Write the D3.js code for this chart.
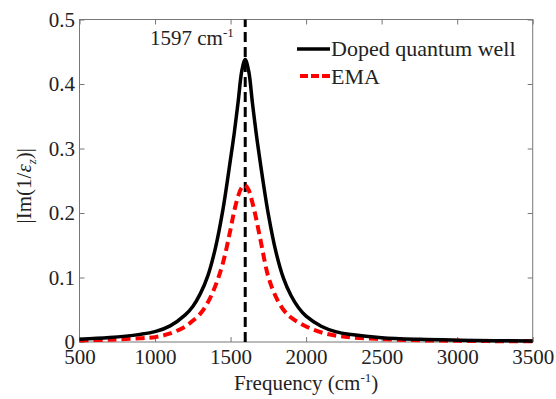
<!DOCTYPE html>
<html>
<head>
<meta charset="utf-8">
<script src="https://cdn.jsdelivr.net/npm/d3@7"></script>
</head>
<body style="margin:0">
<div id="chart"></div>
<script>
// values
const qwFreq = [500, 700, 900, 1000, 1100, 1200, 1250, 1300, 1350, 1400, 1450, 1500, 1525, 1550, 1575, 1597,
    1620, 1645, 1670, 1700, 1750, 1800, 1850, 1900, 1950, 2000, 2100, 2200, 2300, 2500, 2750, 3000, 3250, 3500];
const qwVal = [0.0044, 0.0068, 0.0118, 0.016, 0.025, 0.042, 0.055, 0.075, 0.103, 0.146, 0.206, 0.284, 0.325, 0.372, 0.421, 0.438,
    0.420, 0.370, 0.323, 0.273, 0.198, 0.140, 0.099, 0.072, 0.053, 0.040, 0.0245, 0.0157, 0.0116, 0.0067, 0.0041, 0.0028, 0.002, 0.0015];

const emaFreq = [500, 700, 900, 1000, 1100, 1200, 1250, 1300, 1350, 1400, 1450, 1500, 1525, 1550, 1570, 1592,
    1615, 1640, 1665, 1700, 1750, 1800, 1850, 1900, 2000, 2100, 2200, 2300, 2500, 2750, 3000, 3250, 3500];
const emaVal = [0.0026, 0.0036, 0.0058, 0.0075, 0.0132, 0.024, 0.033, 0.044, 0.0615, 0.0874, 0.123, 0.175, 0.204, 0.226, 0.238, 0.243,
    0.238, 0.220, 0.196, 0.156, 0.101, 0.070, 0.050, 0.038, 0.024, 0.0149, 0.0098, 0.0072, 0.0045, 0.0027, 0.0018, 0.0013, 0.001];

const peakFreq = 1597;
const xTicks = [500, 1000, 1500, 2000, 2500, 3000, 3500];
const yTicks = [0, 0.1, 0.2, 0.3, 0.4, 0.5];

const serif = "'Liberation Serif', 'Times New Roman', serif";

let margin = { top: 19.5, right: 23.3, bottom: 57, left: 79.5 },
    width = 556 - margin.left - margin.right,
    height = 399 - margin.top - margin.bottom;

var svg = d3.select("#chart").append("svg")
    .attr("width", 556)
    .attr("height", 399);

var chart = svg.append("g")
    .attr("transform", "translate(" + margin.left + "," + margin.top + ")");

var x = d3.scaleLinear().domain([500, 3500]).range([0, width]);
var y = d3.scaleLinear().domain([0, 0.5]).range([height, 0]);

// ticks point inwards, mirrored on top and right like matlab
var xAxis = d3.axisBottom(x).tickValues(xTicks).tickSizeInner(-5).tickSizeOuter(0).tickPadding(7)
    .tickFormat(d3.format("d"));
var yAxis = d3.axisLeft(y).tickValues(yTicks).tickSizeInner(-5).tickSizeOuter(0).tickPadding(4.5)
    .tickFormat(d => d === 0 ? "0" : d3.format(".1f")(d));

chart.append("g")
    .attr("class", "x axis")
    .attr("transform", "translate(0," + height + ")")
    .call(xAxis);
chart.append("g")
    .attr("class", "x axis top")
    .call(d3.axisTop(x).tickValues(xTicks).tickSizeInner(-5).tickSizeOuter(0).tickFormat(""));
chart.append("g")
    .attr("class", "y axis")
    .call(yAxis);
chart.append("g")
    .attr("class", "y axis right")
    .attr("transform", "translate(" + width + ",0)")
    .call(d3.axisRight(y).tickValues(yTicks).tickSizeInner(-5).tickSizeOuter(0).tickFormat(""));

chart.selectAll(".axis").attr("font-family", null);
chart.selectAll(".axis .domain").remove();
chart.selectAll(".axis line").attr("stroke", "#777");
chart.selectAll(".axis text").attr("font-size", "21px").attr("fill", "#222");

chart.append("rect")
    .attr("width", width)
    .attr("height", height)
    .attr("fill", "none")
    .attr("stroke", "#777")
    .attr("stroke-width", 1);

// peak marker
chart.append("line")
    .attr("x1", x(peakFreq)).attr("x2", x(peakFreq))
    .attr("y1", y(0)).attr("y2", y(0.5))
    .attr("stroke", "#000")
    .attr("stroke-width", 3)
    .attr("stroke-dasharray", "10,5");

var line = d3.line()
    .x(d => x(d[0]))
    .y(d => y(d[1]))
    .curve(d3.curveCatmullRom.alpha(0.5));

chart.append("path")
    .datum(emaFreq.map((f, i) => [f, emaVal[i]]))
    .attr("d", line)
    .attr("fill", "none")
    .attr("stroke", "#ff0000")
    .attr("stroke-width", 4)
    .attr("stroke-dasharray", "9,5");

chart.append("path")
    .datum(qwFreq.map((f, i) => [f, qwVal[i]]))
    .attr("d", line)
    .attr("fill", "none")
    .attr("stroke", "#000")
    .attr("stroke-width", 3.5);

// peak label
var pl = svg.append("text")
    .attr("x", 150)
    .attr("y", 45)
    .attr("font-size", "21px");
pl.append("tspan").text(peakFreq + " cm");
pl.append("tspan").attr("font-size", "13px").attr("dy", -8).text("-1");

// legend
var legend = svg.append("g");
legend.append("line")
    .attr("x1", 297).attr("x2", 330).attr("y1", 49).attr("y2", 49)
    .attr("stroke", "#000").attr("stroke-width", 3.5);
legend.append("text")
    .attr("x", 331).attr("y", 56)
    .attr("font-size", "22px")
    .text("Doped quantum well");
legend.append("line")
    .attr("x1", 300).attr("x2", 330).attr("y1", 76).attr("y2", 76)
    .attr("stroke", "#ff0000").attr("stroke-width", 4).attr("stroke-dasharray", "8,3");
legend.append("text")
    .attr("x", 331).attr("y", 84)
    .attr("font-size", "22px")
    .text("EMA");

// axis titles
var xl = svg.append("text")
    .attr("x", margin.left + width / 2)
    .attr("y", 390)
    .attr("text-anchor", "middle")
    .attr("font-size", "21px");
xl.append("tspan").text("Frequency (cm");
xl.append("tspan").attr("font-size", "13px").attr("dy", -8).text("-1");
xl.append("tspan").attr("dy", 8).text(")");

var yl = svg.append("text")
    .attr("transform", "translate(31," + (margin.top + height / 2 + 5) + ") rotate(-90)")
    .attr("text-anchor", "middle")
    .attr("font-size", "21px");
yl.append("tspan").text("|Im(1/");
yl.append("tspan").attr("font-style", "italic").text("ε");
yl.append("tspan").attr("font-size", "13px").attr("font-style", "italic").attr("dy", 5).text("z");
yl.append("tspan").attr("dy", -5).text(")|");

svg.selectAll("text").style("font-family", serif).attr("fill", "#222");
</script>
</body>
</html>
